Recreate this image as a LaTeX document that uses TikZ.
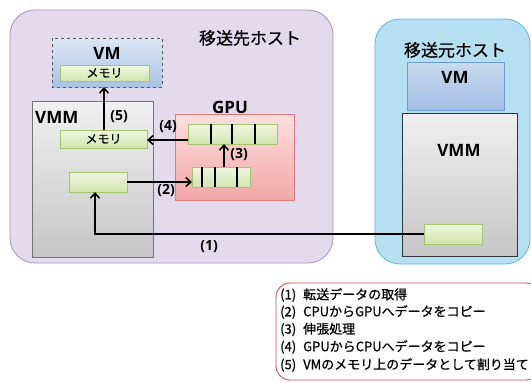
\documentclass[tikz,border=0pt]{standalone}
\usepackage{fontspec}
\setmainfont{Noto Sans CJK JP}[FakeBold=0.7]
\newfontfamily\lat{Open Sans}
\usetikzlibrary{arrows.meta}
\definecolor{hostAfill}{HTML}{E4DAEE}
\definecolor{hostAdraw}{HTML}{A592C4}
\definecolor{hostBfill}{HTML}{B4E0F1}
\definecolor{hostBdraw}{HTML}{62B8DB}
\definecolor{vmAtop}{HTML}{DCE6F4}
\definecolor{vmAbot}{HTML}{AAC3E6}
\definecolor{vmBtop}{HTML}{CADAF1}
\definecolor{vmBbot}{HTML}{A4BEE3}
\definecolor{vmBdraw}{HTML}{6F9DD2}
\definecolor{memtop}{HTML}{EFF6E0}
\definecolor{membot}{HTML}{D3E4AE}
\definecolor{memdraw}{HTML}{A6C46C}
\definecolor{vmmtop}{HTML}{F0F0F0}
\definecolor{vmmbot}{HTML}{C6C6C6}
\definecolor{gputop}{HTML}{FDDEDE}
\definecolor{gpubot}{HTML}{F3A7A7}
\definecolor{gpudraw}{HTML}{E27A7A}
\definecolor{legdraw}{HTML}{C9514D}
\tikzset{
  host/.style={rounded corners=25pt, line width=0.8pt},
  membox/.style={draw=memdraw, line width=0.8pt, top color=memtop, bottom color=membot},
  vmmbox/.style={line width=0.8pt, top color=vmmtop, bottom color=vmmbot},
  boldlab/.style={font=\lat\bfseries\fontsize{17}{17}\selectfont, inner sep=0pt},
  numlab/.style={font=\lat\bfseries\fontsize{14}{14}\selectfont, inner sep=0pt},
  memlab/.style={font=\fontsize{12}{12}\selectfont, inner sep=0pt},
  jlab/.style={font=\fontsize{17}{18}\selectfont, inner sep=0pt},
  legtxt/.style={font=\fontsize{13}{14}\selectfont, inner sep=0pt, anchor=west},
  arr/.style={line width=1.6pt, -{Straight Barb[length=5pt,width=9pt,line width=1.6pt]}},
  divider/.style={line width=1.2pt}
}
\begin{document}
\begin{tikzpicture}[x=1pt,y=-1pt]
\useasboundingbox (0,0) rectangle (531,383);
\fill[white] (0,0) rectangle (531,383);
% destination host
\draw[host, draw=hostAdraw, fill=hostAfill] (10,10) rectangle (333,263);
\node[jlab] (labA) at (250,38) {移送先ホスト};
% source host
\draw[host, draw=hostBdraw, fill=hostBfill] (375,19) rectangle (530,264);
\node[jlab] (labB) at (455,50) {移送元ホスト};
% dest VM
\path[draw=black!65, dashed, line width=0.7pt, top color=vmAtop, bottom color=vmAbot] (52,38) rectangle (162,87);
\coordinate (vmAs) at (104,87);
\node[boldlab] (vmAlab) at (107,53) {VM};
\path[membox] (60,65) rectangle (149,81);
\node[memlab] (memAlab) at (104.5,73) {メモリ};
% dest VMM
\path[vmmbox, draw=black!55] (32,101) rectangle (153,257);
\node[boldlab, anchor=west] (vmmAlab) at (35,117) {VMM};
\path[membox] (60,130) rectangle (147,148);
\node[memlab] (memB) at (103.5,139) {メモリ};
\coordinate (memBn) at (104,130);
\coordinate (memBe) at (147,140);
\path[membox] (69,172) rectangle (127,192);
\coordinate (smallE) at (127,182);
\coordinate (smallS) at (95,192);
% GPU
\path[draw=gpudraw, line width=0.8pt, top color=gputop, bottom color=gpubot] (175,114) rectangle (294,200);
\node[boldlab] (gpulab) at (230,107) {GPU};
\path[membox] (188,124) rectangle (277,144);
\foreach \x in {211,232,255} \draw[divider] (\x,124) -- (\x,144);
\path[membox] (192,167) rectangle (250,187);
\foreach \x in {202,215,237} \draw[divider] (\x,167) -- (\x,187);
\coordinate (arrUw) at (188,140);
\coordinate (arrUs) at (224,144);
\coordinate (arrLn) at (224,167);
\coordinate (arrLw) at (192,182);
% source VM and VMM
\path[draw=vmBdraw, line width=0.8pt, top color=vmBtop, bottom color=vmBbot] (407,62) rectangle (504,110);
\node[boldlab] (vmBlab) at (455,77) {VM};
\path[vmmbox, draw=black!80] (402,113) rectangle (517,256);
\node[boldlab] (vmmBlab) at (459,150) {VMM};
\path[membox] (424,224) rectangle (482,244);
\coordinate (smallBw) at (424,234);
% arrows
\draw[arr] (smallBw) -- (smallS |- smallBw) -- (smallS);
\draw[arr] (smallE) -- (arrLw);
\draw[arr] (arrLn) -- (arrUs);
\draw[arr] (arrUw) -- (memBe);
\draw[arr] (memBn) -- (vmAs);
\node[numlab] (n1) at (209,247) {(1)};
\node[numlab] (n2) at (166,191) {(2)};
\node[numlab] (n3) at (239,155) {(3)};
\node[numlab] (n4) at (168,127) {(4)};
\node[numlab] (n5) at (119,117) {(5)};
% legend
\draw[legdraw, line width=0.9pt, rounded corners=14pt, fill=white] (276,283) rectangle (540,380);
\node[legtxt] (l1) at (280,295) {(1)\hspace{7pt}転送データの取得};
\node[legtxt] (l2) at (280,312) {(2)\hspace{7pt}CPUからGPUへデータをコピー};
\node[legtxt] (l3) at (280,329.5) {(3)\hspace{7pt}伸張処理};
\node[legtxt] (l4) at (280,347) {(4)\hspace{7pt}GPUからCPUへデータをコピー};
\node[legtxt] (l5) at (280,365) {(5)\hspace{7pt}VMのメモリ上のデータとして割り当て};
\end{tikzpicture}
\end{document}
